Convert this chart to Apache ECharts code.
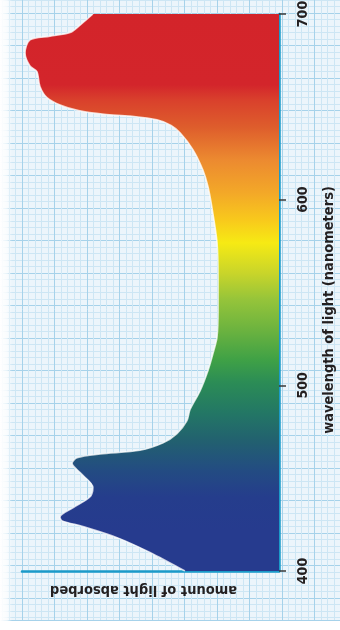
<!DOCTYPE html>
<html>
<head>
<meta charset="utf-8">
<script src="https://cdn.jsdelivr.net/npm/echarts@6/dist/echarts.min.js"></script>
<style>
html,body{margin:0;padding:0;background:#fff;}
#chart{width:340px;height:630px;}
</style>
</head>
<body>
<div id="chart"></div>
<script>
// wavelength (nm) and relative amount of light absorbed (0-100 arbitrary units)
const wavelengths = [400,410,418,424,427,429,434,440,445,453,
                     458,461,463,465,469,474,481,487,497,508,
                     517,526,540,558,577,596,607,616,627,636,
                     640,643,645,646,648,651,655,661,669,672,
                     679,686,688,690,694,700];
const absorbed = [36.6,50.2,63.0,76.3,84.4,85.2,80.2,73.5,72.4,77.4,
                  80.5,78.6,69.6,54.1,45.1,39.7,35.8,34.6,30.7,27.6,
                  25.7,24.1,23.7,23.7,24.1,26.1,27.6,29.6,33.5,38.5,
                  42.0,47.5,58,68,78,85.2,90.3,93.0,94.2,96.9,
                  98.8,96.9,89.1,81.3,77.4,72.4];
const tickLabels = ['400','500','600','700'];
const waveMin = 400, waveMax = 700;

const categories = [];
for (let w = waveMin; w <= waveMax; w++) categories.push(String(w));
const seriesData = wavelengths.map((w, i) => [absorbed[i], String(w)]);
const isTick = (idx, val) => tickLabels.indexOf(String(val)) >= 0;

const FONT = '"Liberation Sans Narrow","DejaVu Sans Condensed","Roboto Condensed",sans-serif';
const chart = echarts.init(document.getElementById('chart'), null, {renderer: 'canvas'});

const option = {
  animation: false,
  backgroundColor: '#ffffff',
  grid: [
    {left: 22, right: 61, top: 14, bottom: 59, containLabel: false, outerBoundsMode: 'none'},
    {left: -10.5, right: 0, top: -19.5, bottom: 10, show: true, backgroundColor: '#ecf5fb', borderWidth: 0,
     containLabel: false, outerBoundsMode: 'none'}
  ],
  xAxis: [
    {
      type: 'value', gridIndex: 0, min: 0, max: 100, inverse: true,
      axisLine: {show: true, lineStyle: {color: '#1b9ac9', width: 2.5}},
      axisTick: {show: false}, axisLabel: {show: false}, splitLine: {show: false},
      name: 'amount of light absorbed', nameLocation: 'middle', nameRotate: 180, nameGap: 11,
      nameTextStyle: {fontFamily: FONT, fontWeight: 'bold', fontSize: 14.5, color: '#231f20', padding: [0, 0, 0, 14]}
    },
    {
      type: 'value', gridIndex: 1, min: 0, max: 350.5, interval: 32.5,
      axisLine: {show: false}, axisTick: {show: false}, axisLabel: {show: false},
      splitLine: {show: true, lineStyle: {color: '#a6d2ea', width: 1}},
      minorTick: {show: false, splitNumber: 5},
      minorSplitLine: {show: true, lineStyle: {color: '#cde6f4', width: 1}}
    }
  ],
  yAxis: [
    {
      type: 'category', gridIndex: 0, data: categories, boundaryGap: false, position: 'right',
      axisLine: {show: true, lineStyle: {color: '#1b9ac9', width: 2.5}},
      axisTick: {show: true, interval: isTick, length: 7, lineStyle: {color: '#3a3a3a', width: 1.5}},
      axisLabel: {show: true, interval: isTick, rotate: 90, margin: 17,
                  fontFamily: FONT, fontWeight: 'bold', fontSize: 14, color: '#231f20'},
      splitLine: {show: false},
      name: 'wavelength of light (nanometers)', nameLocation: 'middle', nameRotate: 90, nameGap: 43,
      nameTextStyle: {fontFamily: FONT, fontWeight: 'bold', fontSize: 14.5, color: '#231f20', padding: [0, 35, 0, 0]}
    },
    {
      type: 'value', gridIndex: 1, min: 0, max: 639.5, interval: 32.5, inverse: true,
      axisLine: {show: false}, axisTick: {show: false}, axisLabel: {show: false},
      splitLine: {show: true, lineStyle: {color: '#a6d2ea', width: 1}},
      minorTick: {show: false, splitNumber: 5},
      minorSplitLine: {show: true, lineStyle: {color: '#cde6f4', width: 1}}
    }
  ],
  graphic: [
    {type: 'rect', left: 0, top: 0, z: 50, silent: true,
     shape: {width: 12, height: 630},
     style: {fill: new echarts.graphic.LinearGradient(0, 0, 1, 0, [
       {offset: 0, color: 'rgba(255,255,255,1)'},
       {offset: 0.6, color: 'rgba(255,255,255,0.7)'},
       {offset: 1, color: 'rgba(255,255,255,0)'}])}}
  ],
  series: [
    {
      type: 'line', xAxisIndex: 0, yAxisIndex: 0, data: seriesData,
      smooth: 0.3, showSymbol: false, symbol: 'none',
      lineStyle: {color: 'rgba(255,255,255,0.75)', width: 1.5},
      areaStyle: {
        opacity: 1,
        color: new echarts.graphic.LinearGradient(0, 0, 0, 1, [
          {offset: 0.0, color: '#d3242a'},
          {offset: 0.127, color: '#d3252b'},
          {offset: 0.154, color: '#d9402c'},
          {offset: 0.203, color: '#de5d2c'},
          {offset: 0.262, color: '#ec8a30'},
          {offset: 0.321, color: '#f3a828'},
          {offset: 0.370, color: '#f8c91c'},
          {offset: 0.411, color: '#f6ea14'},
          {offset: 0.465, color: '#c9d52a'},
          {offset: 0.513, color: '#95c43a'},
          {offset: 0.567, color: '#6cb33f'},
          {offset: 0.621, color: '#3fa146'},
          {offset: 0.662, color: '#2b8c56'},
          {offset: 0.716, color: '#237765'},
          {offset: 0.765, color: '#22616f'},
          {offset: 0.819, color: '#234c82'},
          {offset: 0.867, color: '#253d8c'},
          {offset: 0.926, color: '#263b8e'},
          {offset: 1.0, color: '#263b8e'}
        ])
      }
    }
  ]
};
chart.setOption(option);
</script>
</body>
</html>
